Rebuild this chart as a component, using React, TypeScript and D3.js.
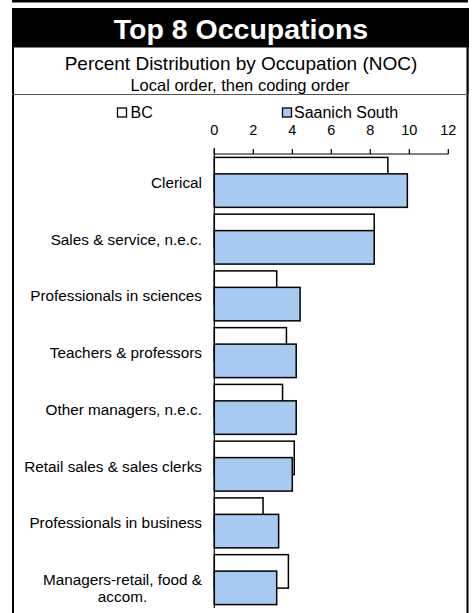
import React, { useMemo } from "react";
import * as d3 from "d3";

const categories: string[] = [
  "Clerical",
  "Sales & service, n.e.c.",
  "Professionals in sciences",
  "Teachers & professors",
  "Other managers, n.e.c.",
  "Retail sales & sales clerks",
  "Professionals in business",
  "Managers-retail, food &\naccom.",
];
const bcValues: number[] = [8.9, 8.2, 3.2, 3.7, 3.5, 4.1, 2.5, 3.8];
const saanichValues: number[] = [9.9, 8.2, 4.4, 4.2, 4.2, 4.0, 3.3, 3.2];
const xTicks: number[] = [0, 2, 4, 6, 8, 10, 12];
const seriesNames: string[] = ["BC", "Saanich South"];

const FONT = "Arial, 'Liberation Sans', sans-serif";

export default function App() {
  const W = 474;
  const H = 613;
  const x = useMemo(() => d3.scaleLinear().domain([0, 12]).range([214.3, 448.3]), []);
  const y = useMemo(
    () => d3.scaleBand<string>().domain(categories).range([154, 608]).padding(0),
    []
  );
  const bw = y.bandwidth();
  const barH = bw * 0.59;
  const off = bw * 0.29;
  const pad = (bw - barH - off) / 2;

  const measure = (t: string, size: number) => {
    const c = document.createElement("canvas").getContext("2d");
    if (!c) return t.length * size * 0.5;
    c.font = `${size}px Arial, 'Liberation Sans', sans-serif`;
    return c.measureText(t).width;
  };

  const labelSize = 15.3;

  return (
    <svg
      width={W}
      height={H}
      style={{ position: "absolute", left: 0, top: 0, display: "block" }}
      fontFamily={FONT}
    >
      <rect x={0} y={0} width={W} height={H} fill="#fff" />
      {/* top rule */}
      <rect x={12} y={0} width={456} height={2.5} fill="#000" />
      {/* title block */}
      <rect x={12} y={8} width={457} height={39} fill="#000" />
      <text x={241} y={38.5} textAnchor="middle" fill="#fff" fontWeight="bold" fontSize={28.5}>
        Top 8 Occupations
      </text>
      {/* subtitle box */}
      <rect x={13} y={47} width={455} height={47.5} fill="#fff" stroke="#000" strokeWidth={1} />
      <line x1={13} y1={47} x2={13} y2={613} stroke="#000" strokeWidth={2} />
      <line x1={467.5} y1={47} x2={467.5} y2={613} stroke="#000" strokeWidth={2} />
      <line x1={12} y1={94.5} x2={468} y2={94.5} stroke="#555" strokeWidth={1} />
      <text x={241} y={69.5} textAnchor="middle" fontSize={19}>
        Percent Distribution by Occupation (NOC)
      </text>
      <text x={240} y={90.5} textAnchor="middle" fontSize={16.5}>
        Local order, then coding order
      </text>

      {/* legend */}
      <rect x={117.5} y={108} width={9} height={9} fill="#fff" stroke="#000" strokeWidth={1.3} />
      <text x={130.5} y={118.3} fontSize={16}>
        {seriesNames[0]}
      </text>
      <rect x={282.5} y={108} width={9} height={9} fill="#A6CAF0" stroke="#000" strokeWidth={1.3} />
      <text x={294} y={118.3} fontSize={16}>
        {seriesNames[1]}
      </text>

      {/* x axis on top */}
      <line x1={x(0)} y1={154} x2={x(12)} y2={154} stroke="#000" strokeWidth={1.2} />
      {xTicks.map((t) => (
        <g key={t}>
          <line x1={x(t)} y1={149} x2={x(t)} y2={154} stroke="#000" strokeWidth={1.2} />
          <text x={x(t)} y={134.5} textAnchor="middle" fontSize={14.5}>
            {t}
          </text>
        </g>
      ))}

      {/* bars */}
      {categories.map((c, i) => {
        const y0 = (y(c) as number) + pad;
        return (
          <g key={c}>
            <rect
              x={x(0)}
              y={y0}
              width={x(bcValues[i]) - x(0)}
              height={barH}
              fill="#fff"
              stroke="#000"
              strokeWidth={1.5}
            />
            <rect
              x={x(0)}
              y={y0 + off}
              width={x(saanichValues[i]) - x(0)}
              height={barH}
              fill="#A6CAF0"
              stroke="#000"
              strokeWidth={1.5}
            />
          </g>
        );
      })}
      {/* y axis */}
      <line x1={x(0)} y1={148} x2={x(0)} y2={608} stroke="#000" strokeWidth={1.2} />

      {/* category labels */}
      {categories.map((c) => {
        const cy = (y(c) as number) + bw / 2;
        const lines = c.split("\n");
        if (lines.length === 1) {
          return (
            <text key={c} x={202} y={cy + 5.5} textAnchor="end" fontSize={labelSize}>
              {c}
            </text>
          );
        }
        const maxW = Math.max(...lines.map((l) => measure(l, labelSize)));
        const cx = 202 - maxW / 2;
        return (
          <text key={c} x={cx} textAnchor="middle" fontSize={labelSize}>
            {lines.map((l, k) => (
              <tspan key={k} x={cx} y={cy + 5.5 + k * 16.5}>
                {l}
              </tspan>
            ))}
          </text>
        );
      })}
    </svg>
  );
}
